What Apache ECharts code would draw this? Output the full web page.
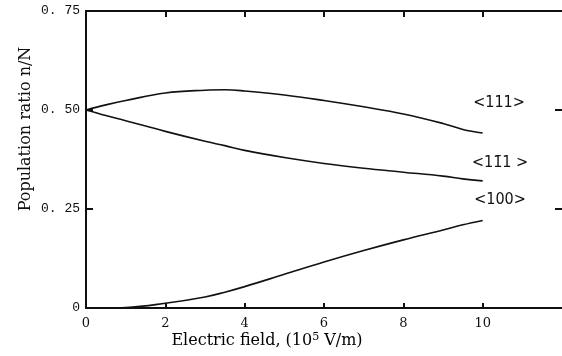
<!DOCTYPE html>
<html>
<head>
<meta charset="utf-8">
<script src="https://cdn.jsdelivr.net/npm/echarts@6/dist/echarts.min.js"></script>
<style>
  html, body { margin: 0; padding: 0; background: #fff; }
  #chart { width: 562px; height: 356px; }
</style>
</head>
<body>
<div id="chart"></div>
<script>
// electric field (10^5 V/m)
const fieldValues = [0, 0.5, 1, 2, 3, 3.5, 4, 5, 6, 7, 8, 9, 9.5, 10];

// population ratio n/N
const pop111 = [0.500, 0.513, 0.524, 0.543, 0.550, 0.551, 0.548, 0.538, 0.524, 0.508, 0.490, 0.466, 0.451, 0.442];
const pop1b1 = [0.500, 0.486, 0.473, 0.446, 0.421, 0.410, 0.398, 0.380, 0.365, 0.353, 0.343, 0.333, 0.326, 0.321];
const pop100 = [0.000, 0.000, 0.001, 0.012, 0.028, 0.040, 0.054, 0.085, 0.116, 0.145, 0.172, 0.197, 0.210, 0.221];

const seriesNames = ['<111>', '<11\u03041 >', '<100>'];
const xTicks = [0, 2, 4, 6, 8, 10];
const yTicks = ['0. 75', '0. 50', '0. 25', '0'];

const chart = echarts.init(document.getElementById('chart'));

function pairs(ys) {
    return fieldValues.map((x, i) => [x, ys[i]]);
}

function curve(name, ys) {
    return {
        name: name,
        type: 'line',
        data: pairs(ys),
        smooth: 0.4,
        symbol: 'none',
        lineStyle: { color: '#111', width: 1.6 }
    };
}

const yLabelMap = { 0: yTicks[3], 0.25: yTicks[2], 0.5: yTicks[1], 0.75: yTicks[0] };
const tickStyle = { color: '#111', width: 2 };
const tagFont = '16px "DejaVu Sans Condensed", "DejaVu Sans", sans-serif';
const titleFont = '16px "DejaVu Serif"';

const tags = [
    { text: seriesNames[0], x: 499, y: 103 },
    { text: seriesNames[1], x: 500, y: 163 },
    { text: seriesNames[2], x: 500, y: 200 }
];

const option = {
    animation: false,
    backgroundColor: '#fff',
    grid: { left: 86, top: 11, width: 480, height: 297 },
    xAxis: [{
        type: 'value',
        min: 0,
        max: 12,
        interval: 2,
        axisLine: { show: true, onZero: false, lineStyle: tickStyle },
        axisTick: { show: true, inside: true, length: 5, customValues: xTicks, lineStyle: tickStyle },
        splitLine: { show: false },
        axisLabel: {
            color: '#111',
            fontFamily: 'DejaVu Serif',
            fontSize: 13,
            margin: 9,
            customValues: xTicks,
            formatter: v => String(v)
        }
    }, {
        type: 'value',
        position: 'top',
        min: 0,
        max: 12,
        interval: 2,
        axisLine: { show: true, onZero: false, lineStyle: tickStyle },
        axisTick: { show: true, inside: true, length: 6, customValues: xTicks, lineStyle: tickStyle },
        axisLabel: { show: false },
        splitLine: { show: false }
    }],
    yAxis: [{
        type: 'value',
        min: 0,
        max: 0.75,
        interval: 0.25,
        axisLine: { show: true, onZero: false, lineStyle: tickStyle },
        axisTick: { show: true, inside: true, length: 7, lineStyle: tickStyle },
        splitLine: { show: false },
        axisLabel: {
            color: '#111',
            fontFamily: 'Liberation Mono',
            fontSize: 13,
            margin: 6,
            formatter: v => yLabelMap[v] ?? ''
        }
    }, {
        type: 'value',
        position: 'right',
        min: 0,
        max: 0.75,
        interval: 0.25,
        axisLine: { show: false, onZero: false },
        axisTick: { show: true, inside: true, length: 7, customValues: [0.25, 0.5], lineStyle: tickStyle },
        axisLabel: { show: false },
        splitLine: { show: false }
    }],
    graphic: [{
        type: 'text',
        x: 26,
        y: 129,
        rotation: Math.PI / 2,
        style: {
            text: 'Population ratio n/N',
            font: titleFont,
            fill: '#111',
            align: 'center',
            verticalAlign: 'middle'
        }
    }, {
        type: 'text',
        x: 267,
        y: 341,
        style: {
            text: '{a|Electric field, (10}{s|5}{a| V/m)}',
            rich: {
                a: { font: titleFont, color: '#111' },
                s: { font: '11px "DejaVu Serif"', color: '#111', verticalAlign: 'top', padding: [0, 0, 8, 0] }
            },
            align: 'center',
            verticalAlign: 'middle'
        }
    }].concat(tags.map(t => ({
        type: 'text',
        x: t.x,
        y: t.y,
        style: {
            text: t.text,
            font: tagFont,
            fill: '#111',
            align: 'center',
            verticalAlign: 'middle'
        }
    }))),
    series: [
        curve(seriesNames[0], pop111),
        curve(seriesNames[1], pop1b1),
        curve(seriesNames[2], pop100)
    ]
};

chart.setOption(option);

window.addEventListener('resize', () => chart.resize());
</script>
</body>
</html>
